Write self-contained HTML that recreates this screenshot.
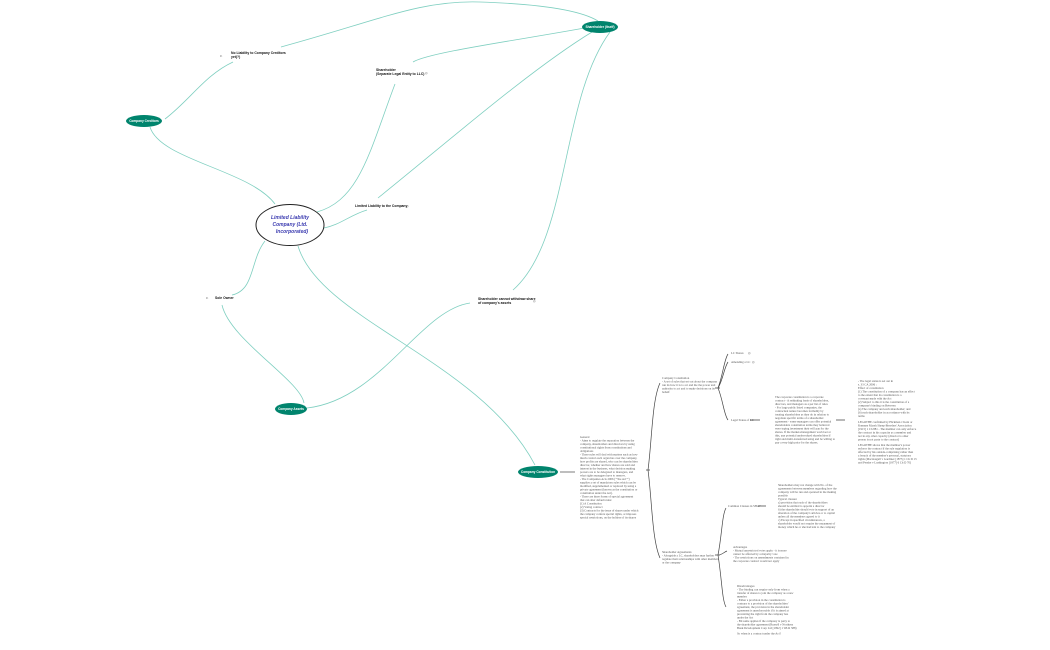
<!DOCTYPE html>
<html><head><meta charset="utf-8"><style>
html,body{margin:0;padding:0;background:#fff;width:1050px;height:650px;overflow:hidden}
svg{display:block}
.l{fill:none;stroke:#7fcfc0;stroke-width:0.8}
.b{fill:none;stroke:#444;stroke-width:0.7}
.t{font-family:"Liberation Sans",sans-serif;font-size:3.4px;fill:#111;font-weight:bold}
.s{font-family:"Liberation Serif",serif;font-size:3px;fill:#555}
.w{font-family:"Liberation Sans",sans-serif;font-size:3.2px;fill:#fff;font-weight:bold}
</style></head><body>
<svg width="1050" height="650" viewBox="0 0 1050 650">
<!-- connectors -->
<path class="l" d="M281,47 C380,20 420,0 480,2 C540,4 580,10 598,21"/>
<path class="l" d="M165,119 C190,100 205,75 233,62"/>
<path class="l" d="M150,127 C160,160 250,170 275,204"/>
<path class="l" d="M413,62 C430,52 520,40 590,27"/>
<path class="l" d="M317,212 C360,200 370,150 395,84"/>
<path class="l" d="M378,198 C450,140 530,70 592,32"/>
<path class="l" d="M324,228 C340,225 350,215 367,210"/>
<path class="l" d="M610,32 C560,100 570,240 513,290"/>
<path class="l" d="M265,241 C250,260 255,290 232,295"/>
<path class="l" d="M222,305 C230,340 300,380 304,403"/>
<path class="l" d="M307,408 C380,400 420,310 470,303"/>
<path class="l" d="M298,246 C320,320 480,360 535,465"/>
<!-- tree branches -->
<path class="b" d="M560,472 L575,472"/>
<path class="b" d="M648,470 C652,440 652,400 660,383 M648,470 C652,500 652,540 660,558 M646,470 L650,470"/>
<path class="b" d="M718,388 C723,375 724,360 728,354 M718,388 C723,380 724,368 728,362 M718,388 C723,400 724,415 728,420 M715,388 L720,388"/>
<path class="b" d="M750,420 L760,420 M836,420 L845,420 M758,506 L766,506"/>
<path class="b" d="M718,555 C722,535 722,515 726,508 M718,555 C722,555 724,552 727,551 M718,555 C722,580 722,600 726,607 M715,555 L720,555"/>
<!-- nodes -->
<ellipse cx="600" cy="27" rx="18" ry="6" fill="#00846d"/>
<text class="w" x="600" y="28" text-anchor="middle">Shareholder (Itself)</text>
<ellipse cx="144" cy="121" rx="18" ry="6" fill="#00846d"/>
<text class="w" x="144" y="122" text-anchor="middle">Company Creditors</text>
<ellipse cx="291" cy="409" rx="16" ry="6" fill="#00846d"/>
<text class="w" x="291" y="410" text-anchor="middle">Company Assets</text>
<ellipse cx="538" cy="472" rx="20" ry="6" fill="#00846d"/>
<text class="w" x="538" y="473" text-anchor="middle">Company Constitution</text>
<ellipse cx="290" cy="225" rx="34" ry="20.5" fill="#fff" stroke="#222" stroke-width="1"/>
<text x="290" y="219" text-anchor="middle" font-family="Liberation Sans,sans-serif" font-size="5px" font-style="italic" font-weight="bold" fill="#3b3bb0">Limited Liability</text>
<text x="290" y="226" text-anchor="middle" font-family="Liberation Sans,sans-serif" font-size="5px" font-style="italic" font-weight="bold" fill="#3b3bb0">Company (Ltd.</text>
<text x="292" y="233" text-anchor="middle" font-family="Liberation Sans,sans-serif" font-size="5px" font-style="italic" font-weight="bold" fill="#3b3bb0">Incorporated)</text>
<!-- labels -->
<text class="t" x="231" y="54">No Liability to Company Creditors</text>
<text class="t" x="231" y="58">yet(?)</text>
<text class="s" x="220" y="57">⊳</text>
<text class="t" x="376" y="71">Shareholder</text>
<text class="t" x="376" y="75">(Separate Legal Entity to LLC)</text>
<text class="s" x="425" y="74">◎</text>
<text class="t" x="355" y="207">Limited Liability to the Company</text>
<text class="s" x="406" y="207">◎</text>
<text class="t" x="215" y="299">Sole Owner</text>
<text class="s" x="206" y="299">⊳</text>
<text class="t" x="478" y="300">Shareholder cannot withdraw share</text>
<text class="t" x="478" y="304">of company's assets</text>
<text class="s" x="533" y="302">◎</text>
<!-- tree text -->
<g class="s">
<text x="580" y="438">General</text>
<text x="580" y="441.5">- Aims to regulate the separation between the</text>
<text x="580" y="445">company, shareholders and directors by using</text>
<text x="580" y="448.5">constitutional rights from constitutions and</text>
<text x="580" y="452">obligations</text>
<text x="580" y="455.5">- There rules will deal with matters such as how</text>
<text x="580" y="459">much control each organ has over the company,</text>
<text x="580" y="462.5">how profits are shared, who can be shareholders</text>
<text x="580" y="466">director, whether and how shares are sold and</text>
<text x="580" y="469.5">interest in the business, what decision making</text>
<text x="580" y="473">powers are to be delegated to managers, and</text>
<text x="580" y="476.5">what rights managers have to remove.</text>
<text x="580" y="480">- The Companies Acts 2006 (""the Act"")</text>
<text x="580" y="483.5">supplies a set of mandatory rules which can be</text>
<text x="580" y="487">modified, supplemented or replaced by using a</text>
<text x="580" y="490.5">private agreement (known as the constitution or</text>
<text x="580" y="494">constitution under the Act).</text>
<text x="580" y="497.5">- There are three forms of special agreement</text>
<text x="580" y="501">that can alter default rules:</text>
<text x="580" y="504.5">(1) A Constitution</text>
<text x="580" y="508">(2) Voting contract</text>
<text x="580" y="511.5">(3) Contracts for the issue of shares under which</text>
<text x="580" y="515">the company confers special rights, or imposes</text>
<text x="580" y="518.5">special restrictions, on the holders of its shares</text>
<text x="662" y="379">Company Constitution</text>
<text x="662" y="382.5">- A set of rules that set out about the company</text>
<text x="662" y="386">run its how it is to act and the the power and</text>
<text x="662" y="389.5">authority to act and to make decisions on its</text>
<text x="662" y="393">behalf</text>
<text x="731" y="354">LC Shares</text><text x="748" y="354">◎</text>
<text x="731" y="363">Amending a LC</text><text x="752" y="363">◎</text>
<text x="731" y="421">Legal Status of LC</text>
<text x="775" y="398">The corporate constitution is a corporate</text>
<text x="775" y="401.5">contract - A rethinking basis of shareholders,</text>
<text x="775" y="405">directors, and managers as a per list of rules</text>
<text x="775" y="408.5">- For large public listed companies, the</text>
<text x="775" y="412">contractual nature becomes formality by</text>
<text x="775" y="415.5">treating shareholders as they do in relation to</text>
<text x="775" y="419">negotiate specific terms of a shareholder</text>
<text x="775" y="422.5">agreement - some managers can offer potential</text>
<text x="775" y="426">shareholders constitution terms they believed</text>
<text x="775" y="429.5">were typing investment their will pay for the</text>
<text x="775" y="433">shares. If the market-management world set at</text>
<text x="775" y="436.5">this, any potential undervalued shareholders if</text>
<text x="775" y="440">right and multi-transferred using and be willing to</text>
<text x="775" y="443.5">pay a very high price for the shares.</text>
<text x="858" y="382">- The legal status is set out in</text>
<text x="858" y="385.5">s. 33 CA 2006 :</text>
<text x="858" y="389">Effect of constitution</text>
<text x="858" y="392.5">(1) The constitution of a company has an effect</text>
<text x="858" y="396">to the extent that its constitution is a</text>
<text x="858" y="399.5">covenant made with the Act</text>
<text x="858" y="403">(2) Subject to this it is the constitution of a</text>
<text x="858" y="406.5">company's binding on Between</text>
<text x="858" y="410">(a) The company and each shareholder; and</text>
<text x="858" y="413.5">(b) each shareholder in accordance with its</text>
<text x="858" y="417">terms</text>
<text x="858" y="423">LEGOTHE confirmed by Hickman v Kent or</text>
<text x="858" y="426.5">Romney Marsh Sheep-Breeders' Association</text>
<text x="858" y="430">[1915] 1 Ch 881 - The member can only enforce</text>
<text x="858" y="433.5">the contract in his capacity as a member and</text>
<text x="858" y="437">not in any other capacity (director is other</text>
<text x="858" y="440.5">person is not party to the contract)</text>
<text x="858" y="446">LEGOTHE shows that the member's power</text>
<text x="858" y="449.5">enforce the contract if the rule regulation is</text>
<text x="858" y="453">affected by his outside-comprising rather than</text>
<text x="858" y="456.5">a breach of the member's personal, statutory</text>
<text x="858" y="460">rights (Macdougall v Gardiner [1875] 1 Ch D 13</text>
<text x="858" y="463.5">and Pender v Lushington [1877] 6 Ch D 70)</text>
<text x="662" y="553">Shareholder Agreements</text>
<text x="662" y="556.5">- Alongside a LC, shareholders may further</text>
<text x="662" y="560">regulate their relationships with other members</text>
<text x="662" y="563.5">or the company</text>
<text x="728" y="507">Common Clauses in SHA?</text>
<text x="778" y="486">Shareholders may not change with No. of the</text>
<text x="778" y="489.5">agreements between members regarding how the</text>
<text x="778" y="493">company will be run and operated in the making</text>
<text x="778" y="496.5">possible</text>
<text x="778" y="500">Typical clauses:</text>
<text x="778" y="503.5">a) provision that each of the shareholders</text>
<text x="778" y="507">should be entitled to appoint a director</text>
<text x="778" y="510.5">b) the shareholder should vote in support of an</text>
<text x="778" y="514">alteration of the company's articles or to capital</text>
<text x="778" y="517.5">unless all the members agreed to it</text>
<text x="778" y="521">c) Except in specified circumstances, a</text>
<text x="778" y="524.5">shareholder would not require the repayment of</text>
<text x="778" y="528">money which he or she had lent to the company</text>
<text x="733" y="548">Advantages</text>
<text x="733" y="551.5">- Mutual unrestricted votes apply - it is more</text>
<text x="733" y="555">cannot be affected by a majority vote</text>
<text x="733" y="558.5">- The restrictions on amendments contained in</text>
<text x="733" y="562">the corporate contract would not apply</text>
<text x="737" y="587">Disadvantages</text>
<text x="737" y="590.5">- The binding can require only from when a</text>
<text x="737" y="594">transfer of shares to join the company as a new</text>
<text x="737" y="597.5">member</text>
<text x="737" y="601">- Either a provision in the constitution is</text>
<text x="737" y="604.5">contrary to a provision of the shareholders'</text>
<text x="737" y="608">agreement, the provision in the shareholder</text>
<text x="737" y="611.5">agreement is unenforceable if it is aimed at</text>
<text x="737" y="615">preventing the right from the company has</text>
<text x="737" y="618.5">under the Act</text>
<text x="737" y="622">- Bit same applies if the company is party to</text>
<text x="737" y="625.5">the shareholder agreement (Russell v Northern</text>
<text x="737" y="629">Bank Development Corp Ltd [1992] 1 WLR 588)</text>
<text x="737" y="634.5">So when is a contract under the Act?</text>
</g>
</svg>
</body></html>
